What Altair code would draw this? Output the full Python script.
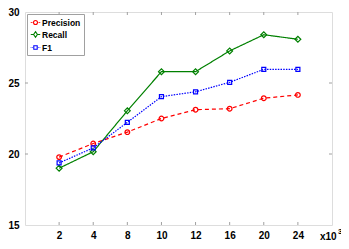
import altair as alt
import pandas as pd

categories = ["2", "4", "8", "10", "12", "16", "20", "24"]
series_names = ["Precision", "Recall", "F1"]
precision = [19.78, 20.74, 21.54, 22.50, 23.12, 23.19, 23.93, 24.16]
recall = [19.00, 20.16, 23.04, 25.80, 25.80, 27.26, 28.40, 28.08]
f1 = [19.37, 20.43, 22.23, 24.04, 24.38, 25.05, 25.96, 25.96]
colors = ["#ff0000", "#008000", "#0000ff"]
y_tick_values = [15, 20, 25, 30]

rows = []
for name, vals in zip(series_names, [precision, recall, f1]):
    for i, (c, v) in enumerate(zip(categories, vals)):
        rows.append({"series": name, "pos": i + 1, "cat": c, "value": v})
df = pd.DataFrame(rows)

W, H = 307, 213
FONT = "Liberation Sans"
GRAY = "#a0a0a0"

xs = alt.Scale(domain=[0, len(categories) + 1], nice=False, zero=False)
ys = alt.Scale(domain=[15, 30], nice=False, zero=False)
cscale = alt.Scale(domain=series_names, range=colors)

label_expr = "[''," + ",".join("'%s'" % c for c in categories) + ",''][datum.value]"

x_axis = alt.Axis(
    values=list(range(1, len(categories) + 1)), labelExpr=label_expr,
    ticks=False, domain=False, grid=False, title=None, labelFont=FONT,
    labelFontWeight="bold", labelFontSize=10, labelColor="black", labelPadding=5)
y_axis = alt.Axis(
    values=y_tick_values, ticks=False, domain=False, grid=False, title=None,
    labelFont=FONT, labelFontWeight="bold", labelFontSize=10, labelColor="black",
    labelPadding=6)

x_enc = alt.X("pos:Q", scale=xs, axis=x_axis)
y_enc = alt.Y("value:Q", scale=ys, axis=y_axis)

dashes = {"Precision": [4, 3], "Recall": [1, 0], "F1": [1.5, 1.2]}
shapes = {"Precision": ("circle", 22), "Recall": ("diamond", 34), "F1": ("square", 16)}

line_layers = []
point_layers = []
for name, col in zip(series_names, colors):
    sub = alt.Chart(df).transform_filter(alt.datum.series == name)
    line_layers.append(
        sub.mark_line(strokeWidth=1.2, color=col, strokeDash=dashes[name])
        .encode(x=x_enc, y=y_enc)
    )
    shp, sz = shapes[name]
    point_layers.append(
        sub.mark_point(shape=shp, size=sz, filled=False, strokeWidth=1.2,
                       color=col, opacity=1)
        .encode(x=x_enc, y=y_enc)
    )

legend_paths = [
    "M-1,0H-0.78M-0.62,0H-0.45M0.45,0H0.62M0.78,0H1"
    "M-0.42,0A0.42,0.42,0,1,1,0.42,0A0.42,0.42,0,1,1,-0.42,0",
    "M-1,0H-0.4M0.4,0H1M0,-0.6L0.4,0L0,0.6L-0.4,0Z",
    "M-1,0H-0.88M-0.72,0H-0.6M-0.45,0H-0.36M0.36,0H0.45M0.6,0H0.72M0.88,0H1"
    "M-0.36,-0.36H0.36V0.36H-0.36Z",
]
leg = alt.Legend(title=None, orient="top-left", offset=2, padding=3,
                 strokeColor=GRAY, fillColor="white", labelFont=FONT,
                 labelFontSize=8.5, labelFontWeight="bold", labelColor="black",
                 symbolSize=90, symbolStrokeWidth=1.1, symbolOpacity=1,
                 rowPadding=2, labelOffset=1, cornerRadius=0)
legend_layer = alt.Chart(df).mark_point(filled=False, opacity=0).encode(
    x=x_enc, y=y_enc,
    color=alt.Color("series:N", scale=cscale, legend=leg),
    shape=alt.Shape("series:N", scale=alt.Scale(domain=series_names, range=legend_paths), legend=leg),
)

tick_x = pd.DataFrame({"pos": list(range(1, len(categories) + 1))})
tick_y = pd.DataFrame({"value": [20, 25]})
dx = 3 / (W / 9.0)
dy = 3 / (H / 15.0)
bottom_ticks = alt.Chart(tick_x).mark_rule(color=GRAY, strokeWidth=1).encode(
    x=x_enc, y=alt.Y(datum=15, scale=ys, axis=y_axis), y2=alt.Y2(datum=15 + dy))
top_ticks = alt.Chart(tick_x).mark_rule(color=GRAY, strokeWidth=1).encode(
    x=x_enc, y=alt.Y(datum=30, scale=ys, axis=y_axis), y2=alt.Y2(datum=30 - dy))
left_ticks = alt.Chart(tick_y).mark_rule(color=GRAY, strokeWidth=1).encode(
    y=y_enc, x=alt.X(datum=0, scale=xs, axis=x_axis), x2=alt.X2(datum=dx))
right_ticks = alt.Chart(tick_y).mark_rule(color=GRAY, strokeWidth=1).encode(
    y=y_enc, x=alt.X(datum=9, scale=xs, axis=x_axis), x2=alt.X2(datum=9 - dx))

exp_df = pd.DataFrame({"t": ["x10"]})
exp_sup = pd.DataFrame({"t": ["3"]})
exp_text = alt.Chart(exp_df).mark_text(align="left", baseline="alphabetic", font=FONT,
                                      fontSize=10, fontWeight="bold", color="black").encode(
    x=alt.value(W - 12), y=alt.value(H + 15), text="t:N")
sup_text = alt.Chart(exp_sup).mark_text(align="left", baseline="alphabetic", font=FONT,
                                       fontSize=8, fontWeight="bold", color="black").encode(
    x=alt.value(W + 6), y=alt.value(H + 9), text="t:N")

chart = alt.layer(
    bottom_ticks, top_ticks, left_ticks, right_ticks,
    *line_layers, *point_layers, legend_layer, exp_text, sup_text,
).properties(
    width=W, height=H,
    padding={"left": 17, "top": 4, "right": 9, "bottom": 16},
    autosize=alt.AutoSizeParams(type="none"),
).configure_view(stroke=GRAY, strokeWidth=1).configure(background="white")

chart.save("out.html", embed_options={"renderer": "svg", "actions": False})
